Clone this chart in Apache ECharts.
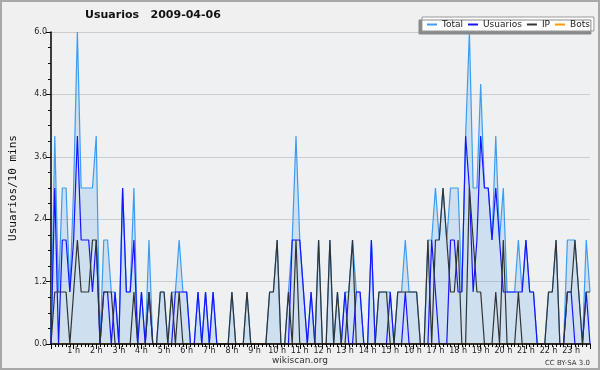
<!DOCTYPE html>
<html><head><meta charset="utf-8">
<script src="https://cdn.jsdelivr.net/npm/echarts@6/dist/echarts.min.js"></script>
<style>html,body{margin:0;padding:0;background:#f0f0f0}#c{width:600px;height:370px}</style>
</head><body><div id="c"></div>
<script>
const hourLabels = ['1 h','2 h','3 h','4 h','5 h','6 h','7 h','8 h','9 h','10 h','11 h','12 h','13 h','14 h','15 h','16 h','17 h','18 h','19 h','20 h','21 h','22 h','23 h'];
const seriesNames = ['Total','Usuarios','IP','Bots'];
// one value per 10-minute slot (144 slots)
const total = [
 0,4,1,3,3,1,3,6,3,3,3,3,4,0,2,2,1,1,0,3,1,1,3,0,
 1,0,2,0,0,1,1,0,1,1,2,1,1,0,0,1,0,1,0,1,0,0,0,0,
 1,0,0,0,1,0,0,0,0,0,1,1,2,0,0,1,2,4,2,1,0,1,0,2,
 0,0,2,0,1,0,1,1,2,1,1,0,0,2,0,1,1,1,1,0,1,1,2,1,
 1,1,0,0,2,2,3,2,3,2,3,3,3,1,4,6,3,3,5,3,3,2,4,2,
 3,1,1,1,2,1,2,1,1,0,0,0,1,1,2,0,0,2,2,2,1,0,2,1
];
const usuarios = [
 0,3,0,2,2,1,2,4,2,2,2,1,2,0,1,1,0,1,0,3,1,1,2,0,
 1,0,1,0,0,0,0,0,0,1,1,1,1,0,0,1,0,1,0,1,0,0,0,0,
 0,0,0,0,0,0,0,0,0,0,0,0,0,0,0,0,2,2,2,1,0,1,0,0,
 0,0,0,0,0,0,1,0,0,1,1,0,0,2,0,0,0,0,1,0,0,0,1,0,
 0,0,0,0,0,2,1,0,0,0,2,2,1,1,4,3,1,2,4,3,3,2,3,2,
 1,1,1,1,1,1,2,1,1,0,0,0,0,0,0,0,0,1,1,0,0,0,1,0
];
const ip = [
 0,1,1,1,1,0,1,2,1,1,1,2,2,0,1,1,1,0,0,0,0,0,1,0,
 0,0,1,0,0,1,1,0,1,0,1,0,0,0,0,0,0,0,0,0,0,0,0,0,
 1,0,0,0,1,0,0,0,0,0,1,1,2,0,0,1,0,2,0,0,0,0,0,2,
 0,0,2,0,1,0,0,1,2,0,0,0,0,0,0,1,1,1,0,0,1,1,1,1,
 1,1,0,0,2,0,2,2,3,2,1,1,2,0,0,3,2,1,1,0,0,0,1,0,
 2,0,0,0,1,0,0,0,0,0,0,0,1,1,2,0,0,1,1,2,1,0,1,1
];
const bots = [
 0,0,0,0,0,0,0,0,0,0,0,0,0,0,0,0,0,0,0,0,0,0,0,0,
 0,0,0,0,0,0,0,0,0,0,0,0,0,0,0,0,0,0,0,0,0,0,0,0,
 0,0,0,0,0,0,0,0,0,0,0,0,0,0,0,0,0,0,0,0,0,0,0,0,
 0,0,0,0,0,0,0,0,0,0,0,0,0,0,0,0,0,0,0,0,0,0,0,0,
 0,0,0,0,0,0,0,0,0,0,0,0,0,0,0,0,0,0,0,0,0,0,0,0,
 0,0,0,0,0,0,0,0,0,0,0,0,0,0,0,0,0,0,0,0,0,0,0,0
];

const pts = arr => arr.map((v, i) => [i, v]);
const chart = echarts.init(document.getElementById('c'), null, {renderer: 'canvas'});
const lineSeries = (name, data, color, extra) => Object.assign({
  name: name, type: 'line', data: pts(data), symbol: 'none', showSymbol: false,
  lineStyle: {color: color, width: 1.2}, itemStyle: {color: color}, emphasis: {disabled: true}
}, extra || {});

chart.setOption({
  animation: false,
  backgroundColor: '#f0f0f0',
  title: {
    text: 'Usuarios   2009-04-06', left: 85, top: 10, padding: 0,
    textStyle: {fontFamily: 'DejaVu Sans', fontWeight: 'bold', fontSize: 11, color: '#111'}
  },
  legend: {
    data: seriesNames, left: 422, top: 17, padding: [3, 4, 2, 5],
    icon: 'rect', itemWidth: 10, itemHeight: 2, itemGap: 5,
    backgroundColor: '#ffffff', borderColor: '#999', borderWidth: 1,
    shadowColor: '#888', shadowOffsetX: -3, shadowOffsetY: 3, shadowBlur: 0,
    textStyle: {fontFamily: 'DejaVu Sans', fontSize: 9, color: '#222'}
  },
  grid: {left: 43, right: 10, top: 32, bottom: 26, show: true, backgroundColor: '#eef0f2', borderWidth: 0},
  xAxis: {
    type: 'value', min: 0, max: 143, interval: 6, z: 5,
    axisLine: {lineStyle: {color: '#000', width: 1.5}},
    axisTick: {length: 5, lineStyle: {color: '#000'}},
    minorTick: {show: true, splitNumber: 6, length: 3, lineStyle: {color: '#000'}},
    splitLine: {show: false},
    axisLabel: {
      fontFamily: 'DejaVu Sans', fontSize: 8, color: '#222', margin: 3,
      formatter: v => (v > 0 && v % 6 === 0 && hourLabels[v / 6 - 1]) ? hourLabels[v / 6 - 1] : ''
    }
  },
  yAxis: {
    type: 'value', min: 0, max: 6, interval: 1.2,
    name: 'Usuarios/10 mins', nameLocation: 'middle', nameGap: 32,
    nameTextStyle: {fontFamily: 'DejaVu Sans Mono', fontSize: 11, color: '#111'},
    axisLine: {show: true, lineStyle: {color: '#000', width: 1.5}},
    axisTick: {show: true, length: 5, lineStyle: {color: '#000'}},
    minorTick: {show: true, splitNumber: 4, length: 3, lineStyle: {color: '#000'}},
    splitLine: {lineStyle: {color: '#cccccc', width: 1}},
    axisLabel: {fontFamily: 'DejaVu Sans', fontSize: 8, color: '#222', margin: 4, formatter: v => v.toFixed(1)}
  },
  series: [
    lineSeries(seriesNames[0], total, '#3d9cf0', {areaStyle: {color: 'rgba(60,150,225,0.26)'}}),
    lineSeries(seriesNames[1], usuarios, '#1414ff'),
    lineSeries(seriesNames[2], ip, '#333333'),
    lineSeries(seriesNames[3], bots, '#ff9900')
  ],
  graphic: [
    {type: 'text', z: 10, style: {text: 'wikiscan.org', x: 300, y: 361, align: 'center', verticalAlign: 'middle', textAlign: 'center', textVerticalAlign: 'middle', font: '9px "DejaVu Sans"', fill: '#333'}},
    {type: 'text', z: 10, style: {text: 'CC BY-SA 3.0', x: 590, y: 363, align: 'right', verticalAlign: 'middle', textAlign: 'right', textVerticalAlign: 'middle', font: '7px "DejaVu Sans"', fill: '#333'}},
    {type: 'rect', z: 100, silent: true, shape: {x: 1, y: 1, width: 598, height: 368}, style: {fill: 'none', stroke: '#a8a8a8', lineWidth: 2}}
  ]
});
</script>
</body></html>
